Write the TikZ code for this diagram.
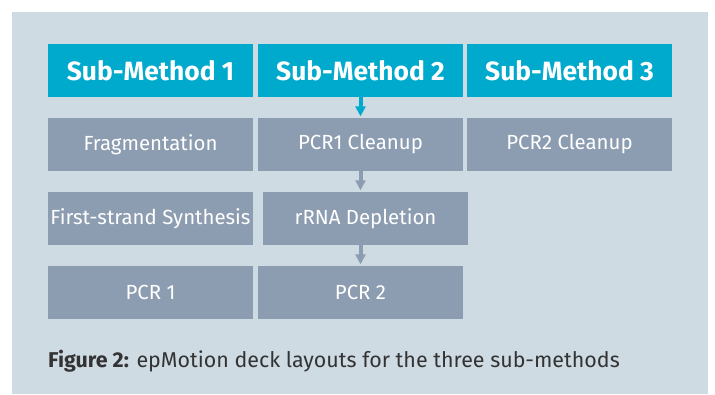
\documentclass[tikz,border=0pt]{standalone}
\usepackage{fontspec}
\setmainfont{Fira Sans}
\usetikzlibrary{arrows.meta}
\definecolor{methodcyan}{HTML}{00AACC}
\definecolor{stepgray}{HTML}{8D9DB1}
\definecolor{panelblue}{HTML}{CEDBE3}
\definecolor{captiondark}{HTML}{333333}

\begin{document}
\begin{tikzpicture}[x=1bp,y=-1bp,
  methodbox/.style={fill=methodcyan, text=white, font=\fontsize{26.5}{30}\selectfont\bfseries,
    minimum width=205bp, minimum height=53bp, inner sep=0pt},
  stepbox/.style={fill=stepgray, text=white, font=\fontsize{20.5}{24}\selectfont,
    minimum width=205bp, minimum height=53bp, inner sep=0pt},
  flow/.style={line width=4bp, -{Triangle[width=10bp,length=10bp]}, shorten >=1.5bp}]
\useasboundingbox (0,0) rectangle (715,394);
\fill[panelblue] (12,12) rectangle (708,394);
\node[methodbox] (m1) at (150.5,70.5) {Sub-Method 1};
\node[methodbox] (m2) at (360.5,70.5) {Sub-Method 2};
\node[methodbox] (m3) at (569.5,70.5) {Sub-Method 3};
\node[stepbox] (frag) at (150.5,144.5) {Fragmentation};
\node[stepbox] (clean1) at (360.5,144.5) {PCR1 Cleanup};
\node[stepbox] (clean2) at (569.5,144.5) {PCR2 Cleanup};
\node[stepbox] (synth) at (150.5,218.5) {First-strand Synthesis};
\node[stepbox] (rrna) at (365.5,218.5) {rRNA Depletion};
\node[stepbox] (pcr1) at (150.5,292.5) {PCR 1};
\node[stepbox] (pcr2) at (360.5,292.5) {PCR 2};
\draw[flow, methodcyan] (m2.south) -- (clean1.north);
\draw[flow, stepgray] (clean1.south) -- (clean1.south |- rrna.north);
\draw[flow, stepgray] (clean1.south |- rrna.south) -- (pcr2.north);
\node[anchor=base west, inner sep=0pt, text=captiondark, font=\fontsize{21.5}{24}\selectfont]
  (caption) at (48,367) {\textbf{Figure 2:} epMotion deck layouts for the three sub-methods};
\end{tikzpicture}
\end{document}
